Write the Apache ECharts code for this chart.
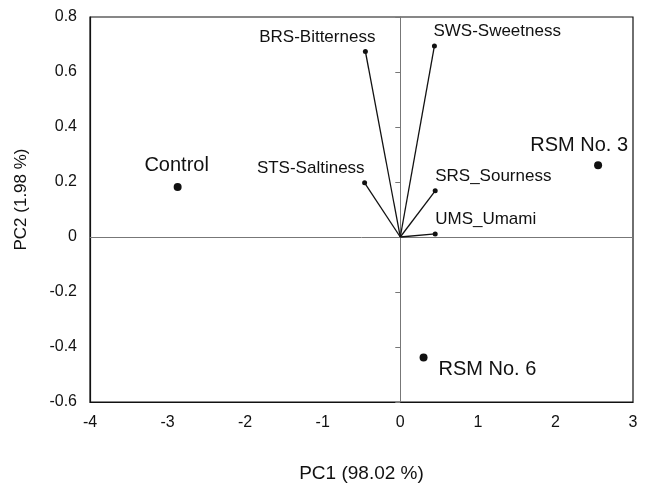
<!DOCTYPE html>
<html>
<head>
<meta charset="utf-8">
<script src="https://cdn.jsdelivr.net/npm/echarts@6/dist/echarts.min.js"></script>
<style>html,body{margin:0;padding:0;background:#fff}#c{width:647px;height:488px}</style>
</head>
<body>
<div id="c"></div>
<script>
// Loadings (attribute vectors)
var loadingNames = ['BRS-Bitterness', 'SWS-Sweetness', 'STS-Saltiness', 'SRS_Sourness', 'UMS_Umami'];
var loadingX = [-0.45, 0.44, -0.46, 0.45, 0.45];
var loadingY = [0.675, 0.695, 0.197, 0.168, 0.011];
// Scores (samples)
var scoreNames = ['Control', 'RSM No. 3', 'RSM No. 6'];
var scoreX = [-2.87, 2.55, 0.30];
var scoreY = [0.182, 0.261, -0.438];
// Axis ticks
var xTicks = [-4, -3, -2, -1, 0, 1, 2, 3];
var yTicks = [-0.6, -0.4, -0.2, 0, 0.2, 0.4, 0.6, 0.8];

// label placement (styling, separate from data)
var labelPlace = {
  'BRS-Bitterness': {align: 'right', offset: [10, -14]},
  'SWS-Sweetness': {align: 'left', offset: [-1, -15]},
  'STS-Saltiness': {align: 'right', offset: [0, -15]},
  'SRS_Sourness': {align: 'left', offset: [0, -14]},
  'UMS_Umami': {align: 'left', offset: [0, -15]},
  'Control': {align: 'center', offset: [-1, -21]},
  'RSM No. 3': {align: 'right', offset: [30, -20]},
  'RSM No. 6': {align: 'left', offset: [15, 12]}
};

var FONT = 'Liberation Sans, Arial, sans-serif';
var TXT = '#111';
var chart = echarts.init(document.getElementById('c'), null, {renderer: 'canvas'});

var series = [];
loadingNames.forEach(function (n, i) {
  var lp = labelPlace[n];
  series.push({
    type: 'line',
    xAxisIndex: 0, yAxisIndex: 0,
    data: [
      {value: [0, 0], symbolSize: 0},
      {value: [loadingX[i], loadingY[i]], symbolSize: 5,
       label: {show: true, formatter: n, position: 'inside', align: lp.align,
               verticalAlign: 'middle', offset: lp.offset,
               fontFamily: FONT, fontSize: 17, color: TXT}}
    ],
    symbol: 'circle',
    showAllSymbol: true,
    lineStyle: {color: '#111', width: 1.3},
    itemStyle: {color: '#111', opacity: 1},
    label: {show: false},
    silent: true,
    animation: false,
    z: 3
  });
});
series.push({
  type: 'scatter',
  xAxisIndex: 0, yAxisIndex: 0,
  symbolSize: 8,
  itemStyle: {color: '#111', opacity: 1},
  data: scoreNames.map(function (n, i) {
    var lp = labelPlace[n];
    return {value: [scoreX[i], scoreY[i]],
      label: {show: true, formatter: n, position: 'inside', align: lp.align,
              verticalAlign: 'middle', offset: lp.offset,
              fontFamily: FONT, fontSize: 20, color: TXT, opacity: 1}};
  }),
  animation: false,
  z: 4
});

var xMin = xTicks[0], xMax = xTicks[xTicks.length - 1];
var yMin = yTicks[0], yMax = yTicks[yTicks.length - 1];

chart.setOption({
  backgroundColor: '#fff',
  animation: false,
  grid: {left: 90, right: 14, top: 17, bottom: 86, show: true,
         borderColor: '#111', borderWidth: 1.2, backgroundColor: 'transparent'},
  xAxis: [{
    type: 'value', min: xMin, max: xMax, interval: 1,
    name: 'PC1 (98.02 %)', nameLocation: 'middle', nameGap: 62,
    nameTextStyle: {fontFamily: FONT, fontSize: 19, color: TXT},
    axisLine: {show: true, onZero: false, lineStyle: {color: '#111', width: 1.2}},
    axisTick: {show: false},
    splitLine: {show: false},
    axisLabel: {fontFamily: FONT, fontSize: 16, color: TXT, margin: 13,
                formatter: function (v) { return String(v); }}
  }, {
    type: 'value', min: xMin, max: xMax, interval: 1,
    position: 'bottom',
    axisLine: {show: true, onZero: true, onZeroAxisIndex: 0, lineStyle: {color: '#777', width: 1}},
    axisTick: {show: false},
    axisLabel: {show: false},
    splitLine: {show: false}
  }],
  yAxis: [{
    type: 'value', min: yMin, max: yMax, interval: 0.2,
    name: 'PC2 (1.98 %)', nameLocation: 'middle', nameGap: 60,
    nameTextStyle: {fontFamily: FONT, fontSize: 17, color: TXT, padding: [0, 0, 0, 20]},
    axisLine: {show: true, onZero: false, lineStyle: {color: '#111', width: 1.2}},
    axisTick: {show: false},
    splitLine: {show: false},
    axisLabel: {fontFamily: FONT, fontSize: 16, color: TXT, margin: 13,
                formatter: function (v) { return String(Math.round(v * 10) / 10); }}
  }, {
    type: 'value', min: yMin, max: yMax, interval: 0.2,
    position: 'left',
    axisLine: {show: true, onZero: true, onZeroAxisIndex: 0, lineStyle: {color: '#777', width: 1}},
    axisTick: {show: true, length: 5, inside: false, lineStyle: {color: '#777', width: 1}},
    axisLabel: {show: false},
    splitLine: {show: false}
  }],
  series: series
});
</script>
</body>
</html>
